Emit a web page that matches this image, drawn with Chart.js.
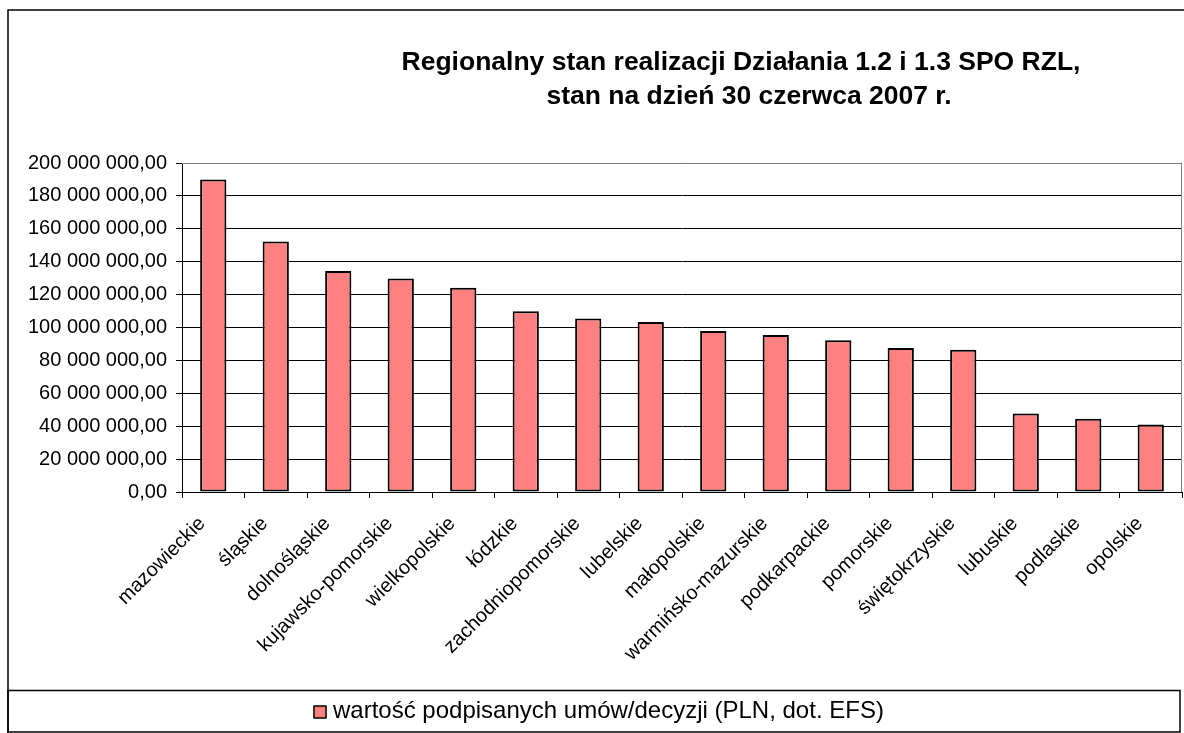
<!DOCTYPE html>
<html>
<head>
<meta charset="utf-8">
<script src="https://cdn.jsdelivr.net/npm/chart.js@4/dist/chart.umd.min.js"></script>
<style>
  body { margin: 0; background: #fff; }
  #wrap { width: 1184px; height: 733px; }
</style>
</head>
<body>
<div id="wrap"><canvas id="myChart" width="1184" height="733"></canvas></div>
<script>
var regions = ["mazowieckie", "śląskie", "dolnośląskie", "kujawsko-pomorskie", "wielkopolskie",
    "łódzkie", "zachodniopomorskie", "lubelskie", "małopolskie", "warmińsko-mazurskie",
    "podkarpackie", "pomorskie", "świętokrzyskie", "lubuskie", "podlaskie", "opolskie"];
var contractValues = [190000000, 152300000, 134400000, 129800000, 124200000,
    109900000, 105400000, 103300000, 97900000, 95400000,
    92200000, 87500000, 86500000, 47700000, 44500000, 41000000];
var seriesLabel = "wartość podpisanych umów/decyzji (PLN, dot. EFS)";
var titleLines = ["Regionalny stan realizacji Działania 1.2 i 1.3 SPO RZL,", "stan na dzień 30 czerwca 2007 r."];
var yMin = 0, yMax = 200000000, yStep = 20000000;

var FONT = "'Liberation Sans', Arial, sans-serif";

function plnFormat(v) {
    return v.toFixed(2).replace('.', ',').replace(/\B(?=(\d{3})+(?!\d))/g, ' ');
}

// frame, title and legend box like the Excel chart
var excelFrame = {
    id: 'excelFrame',
    afterDraw: function(chart) {
        var ctx = chart.ctx;
        var a = chart.chartArea;
        ctx.save();
        // outer chart border
        ctx.strokeStyle = '#000';
        ctx.lineWidth = 1.5;
        ctx.strokeRect(8, 10, 1200, 760);
        // plot area border (top/right grey)
        ctx.strokeStyle = '#808080';
        ctx.lineWidth = 1;
        ctx.beginPath();
        ctx.moveTo(a.left, a.top + 0.5);
        ctx.lineTo(a.right - 0.5, a.top + 0.5);
        ctx.lineTo(a.right - 0.5, a.bottom);
        ctx.stroke();

        // title
        ctx.fillStyle = '#000';
        ctx.font = 'bold 26.5px ' + FONT;
        ctx.textAlign = 'center';
        ctx.textBaseline = 'middle';
        ctx.fillText(titleLines[0], 741, 63);
        ctx.fillText(titleLines[1], 749, 97);

        // legend
        ctx.strokeStyle = '#000';
        ctx.lineWidth = 1.5;
        ctx.strokeRect(8, 690.5, 1172, 41.5);
        var ds = chart.data.datasets[0];
        ctx.fillStyle = ds.backgroundColor;
        ctx.fillRect(314, 706, 12, 12);
        ctx.lineWidth = 1.5;
        ctx.strokeRect(314, 706, 12, 12);
        ctx.fillStyle = '#000';
        ctx.font = '24px ' + FONT;
        ctx.textAlign = 'left';
        ctx.fillText(ds.label, 333, 711);
        ctx.restore();
    }
};

var ctx = document.getElementById('myChart').getContext('2d');
var chart = new Chart(ctx, {
    type: 'bar',
    data: {
        labels: regions,
        datasets: [{
            label: seriesLabel,
            data: contractValues,
            backgroundColor: '#FF8080',
            borderColor: '#000',
            borderWidth: 2,
            borderSkipped: false,
            barPercentage: 0.42,
            categoryPercentage: 1
        }]
    },
    options: {
        responsive: false,
        animation: false,
        layout: { padding: { left: 10, right: 2, top: 163, bottom: 43 } },
        plugins: {
            legend: { display: false },
            title: { display: false },
            tooltip: { enabled: false }
        },
        scales: {
            x: {
                afterFit: function(s) { s.height = 198; },
                grid: { offset: true, drawOnChartArea: false, color: '#000', tickLength: 6 },
                border: { color: '#000' },
                ticks: {
                    autoSkip: false,
                    maxRotation: 45,
                    minRotation: 45,
                    padding: 14,
                    labelOffset: -11,
                    color: '#000',
                    font: { family: FONT, size: 20 }
                }
            },
            y: {
                min: yMin,
                max: yMax,
                afterFit: function(s) { s.width = 172; },
                grid: { color: '#000', tickLength: 6 },
                border: { color: '#000' },
                ticks: {
                    stepSize: yStep,
                    color: '#000',
                    padding: 9,
                    font: { family: FONT, size: 20 },
                    callback: function(v) { return plnFormat(v); }
                }
            }
        }
    },
    plugins: [excelFrame]
});
</script>
</body>
</html>
